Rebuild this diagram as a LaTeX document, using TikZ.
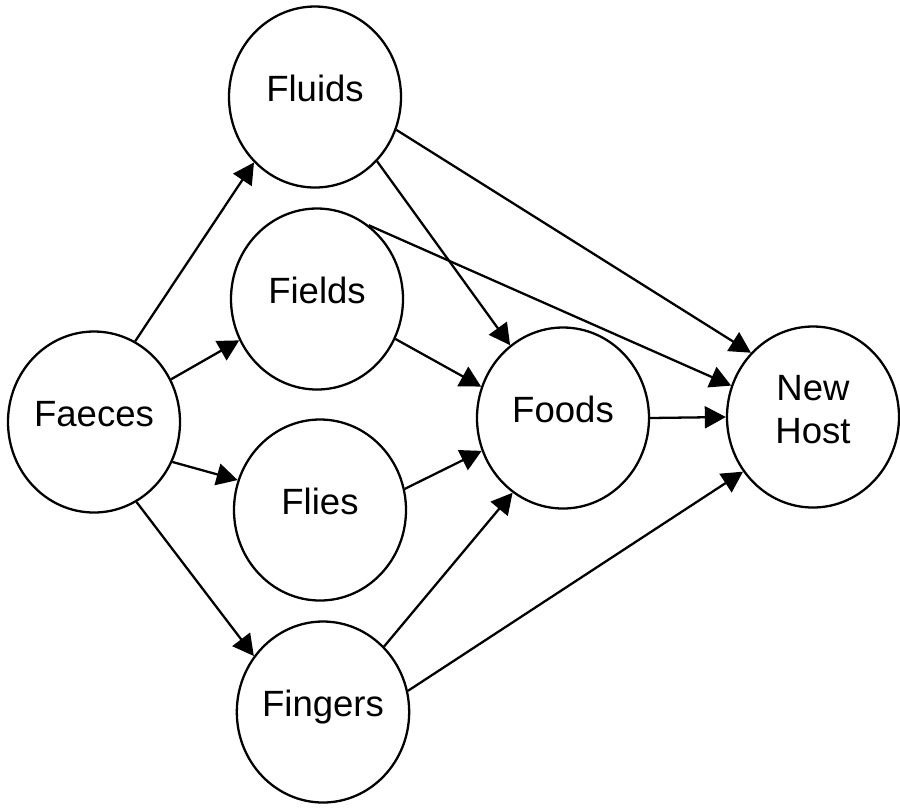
\documentclass[tikz,border=0pt]{standalone}
\usepackage{fontspec}
\setmainfont{Liberation Sans}
\usetikzlibrary{shapes.geometric,arrows.meta}

\begin{document}
\begin{tikzpicture}[
  font=\fontsize{10.4}{12}\selectfont,
  stage/.style={draw,ellipse,line width=0.65pt,minimum width=1.72cm,minimum height=1.81cm,
    inner sep=0pt,text height=0.26cm,text depth=0.17cm},
  arr/.style={line width=0.65pt,-{Triangle[length=2.1mm,width=2.2mm]}},
]
  \useasboundingbox (0,0) rectangle (9,-8.07);
  \node[stage] (faeces) at (0.94,-4.22) {Faeces};
  \node[stage] (fluids) at (3.15,-0.97) {Fluids};
  \node[stage] (fields) at (3.17,-2.99) {Fields};
  \node[stage] (flies) at (3.20,-5.10) {Flies};
  \node[stage] (fingers) at (3.23,-7.12) {Fingers};
  \node[stage] (foods) at (5.63,-4.18) {Foods};
  \node[stage,align=center,text height=0.68cm,text depth=0.16cm] (host) at (8.13,-4.17) {New\\Host};

  \draw[arr] (faeces.63) -- (fluids.227);
  \draw[arr] (faeces.29) -- (fields.208);
  \draw[arr] (faeces.333) -- (flies.160);
  \draw[arr] (faeces.298) -- (fingers.141);

  \draw[arr] (fluids.314) -- (foods.126);
  \draw[arr] (fluids.338) -- (host.134);
  \draw[arr] (fields.55) -- (host.159);
  \draw[arr] (fields.333) -- (foods.159);
  \draw[arr] (flies.14) -- (foods.202);
  \draw[arr] (fingers.47) -- (foods.236);
  \draw[arr] (fingers.14) -- (host.218);
  \draw[arr] (foods.0) -- (host.180);
\end{tikzpicture}
\end{document}
